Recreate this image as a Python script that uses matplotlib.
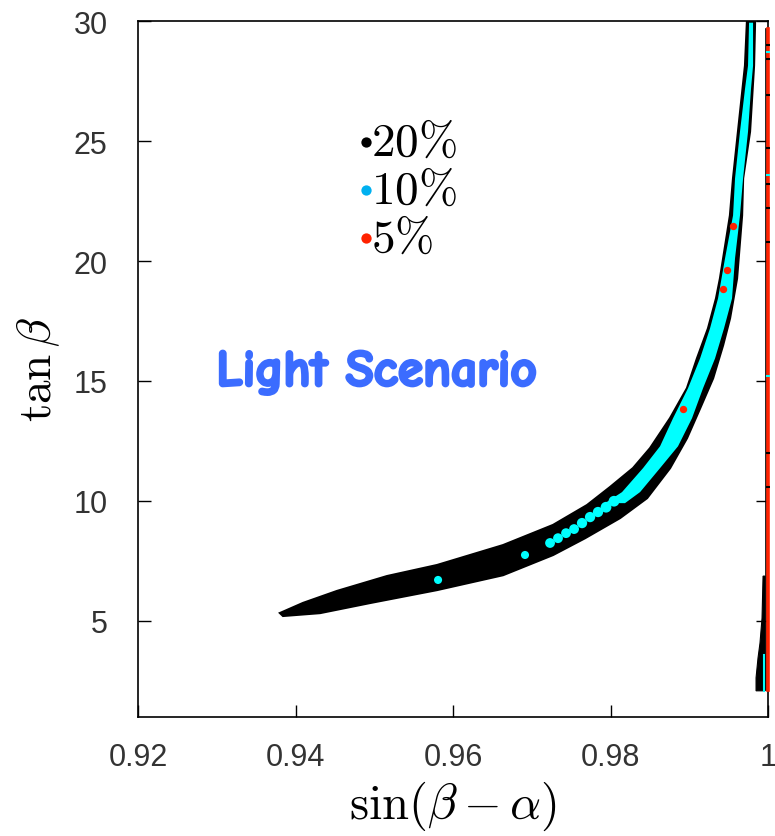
import matplotlib
matplotlib.use("Agg")
import matplotlib.pyplot as plt
import matplotlib.patheffects as pe

plt.rcParams['mathtext.fontset'] = 'cm'

# 20% region: outline of the allowed band (upper-left edge, then lower-right edge back down)
band_x = [0.93803, 0.94095, 0.94527, 0.95162, 0.95797, 0.96635, 0.97270, 0.97702,
          0.97994, 0.98286, 0.98502, 0.98756, 0.98971, 0.99098, 0.99238, 0.99340,
          0.99390, 0.99517, 0.99556, 0.99619, 0.99708, 0.99733,
          0.99835, 0.99822, 0.99771, 0.99683, 0.99670, 0.99606, 0.99517, 0.99429,
          0.99302, 0.99137, 0.98971, 0.98756, 0.98464, 0.98121, 0.97676, 0.97270,
          0.96635, 0.95797, 0.94946, 0.94311, 0.93841]
band_y = [5.33, 5.75, 6.25, 6.87, 7.33, 8.16, 9.00, 9.83,
          10.58, 11.37, 12.20, 13.45, 14.70, 15.94, 17.19, 18.44,
          19.27, 21.90, 23.44, 25.39, 28.14, 30.0,
          30.0, 28.14, 25.39, 23.44, 21.90, 19.27, 17.61, 16.49,
          15.11, 13.86, 12.62, 11.37, 10.12, 9.29, 8.45, 7.75,
          6.91, 6.29, 5.75, 5.33, 5.21]

# 10% region: continuous strip inside the upper part of the band
strip_x = [0.97930, 0.98146, 0.98413, 0.98629, 0.98794, 0.98984, 0.99137, 0.99263,
           0.99365, 0.99454, 0.99556, 0.99581, 0.99644, 0.99708, 0.99746, 0.99759,
           0.99810, 0.99810, 0.99784, 0.99746, 0.99683, 0.99644, 0.99581, 0.99543,
           0.99441, 0.99327, 0.99175, 0.99035, 0.98857, 0.98629, 0.98375, 0.98184]
strip_y = [9.91, 10.37, 11.37, 12.28, 13.45, 14.70, 15.94, 17.19,
           18.44, 20.11, 21.90, 23.44, 25.39, 27.18, 28.14, 29.93,
           29.93, 28.14, 27.18, 25.39, 23.44, 21.90, 20.11, 18.44,
           17.19, 15.94, 14.70, 13.45, 12.28, 11.37, 10.37, 9.91]
# scattered 10% points further down the band
dots10_x = [0.95810, 0.96914, 0.97232, 0.97333, 0.97435, 0.97537, 0.97638, 0.97740,
            0.97841, 0.97943, 0.98044]
dots10_y = [6.71, 7.75, 8.25, 8.45, 8.66, 8.83, 9.08, 9.33, 9.54, 9.74, 9.99]
dots10_s = [34, 34, 50, 50, 50, 50, 55, 55, 55, 60, 60]

# 5% points
dots5_x = [0.99556, 0.99479, 0.99429, 0.98921]
dots5_y = [21.44, 19.61, 18.82, 13.82]

# solutions hugging sin(beta-alpha) = 1
edge_x = [0.99937, 0.99962, 0.99962, 0.99848, 0.99848, 0.99873, 0.99898, 0.99924]
edge_y = [6.87, 6.87, 2.09, 2.09, 2.63, 3.46, 4.08, 5.12]
edge10_y = [2.09, 3.59]
line_lo, line_hi = 2.13, 29.68
dash_black = [29.0, 28.4, 26.9, 24.7, 23.2, 22.2, 20.8, 12.0, 10.6]
dash_cyan = [28.7, 23.6, 15.2]

xticks = [0.92, 0.94, 0.96, 0.98, 1.0]
xticklabels = ['0.92', '0.94', '0.96', '0.98', '1']
yticks = [5, 10, 15, 20, 25, 30]
legend_labels = ['20%', '10%', '5%']
legend_colors = ['black', '#00b0f0', '#ff2200']

fig = plt.figure(figsize=(7.75, 8.37), dpi=100)
ax = fig.add_axes([0.1781, 0.1422, 0.8129, 0.8315])

ax.fill(band_x, band_y, facecolor='black', edgecolor='black', lw=1.6, zorder=2)
ax.fill(strip_x, strip_y, color='cyan', lw=0, zorder=3)
ax.scatter(dots10_x, dots10_y, s=dots10_s, color='cyan', lw=0, zorder=3)
ax.scatter(dots5_x, dots5_y, s=28, color='#ff2200', lw=0, zorder=4)

ax.fill(edge_x, edge_y, facecolor='black', edgecolor='black', lw=0.8, zorder=2)
ax.plot([0.99950, 0.99950], edge10_y, color='cyan', lw=1.5, zorder=3)
ax.plot([0.99970, 0.99970], [line_lo, line_hi], color='black', lw=1.2, zorder=3, clip_on=False)
ax.plot([1.00005, 1.00005], [line_lo, line_hi], color='#ff2200', lw=2.6, zorder=4, clip_on=False)
ax.scatter([1.00003] * len(dash_black), dash_black, marker='_', s=6, color='black', lw=1.5,
           zorder=5, clip_on=False)
ax.scatter([1.00003] * len(dash_cyan), dash_cyan, marker='_', s=6, color='cyan', lw=1.5,
           zorder=5, clip_on=False)

ax.set_xlim(0.92, 1.0)
ax.set_ylim(1, 30)
ax.set_xticks(xticks)
ax.set_xticklabels(xticklabels)
ax.set_yticks(yticks)
ax.tick_params(direction='in', length=9, width=1, top=False, right=True,
               labelsize=22, labelcolor='#333333')
ax.tick_params(axis='y', pad=22)
ax.tick_params(axis='x', pad=18)
for lab in ax.get_xticklabels() + ax.get_yticklabels():
    lab.set_family(['Liberation Sans', 'DejaVu Sans'])
ax.spines['right'].set_visible(False)
for s in ['left', 'bottom', 'top']:
    ax.spines[s].set_linewidth(1.2)
ax.plot([1.0, 1.0], [1, 30], color='black', lw=1.2, zorder=1, clip_on=False)

ax.set_xlabel(r'$\sin(\beta-\alpha)$', fontsize=35, labelpad=5)
ax.set_ylabel(r'$\tan\beta$', fontsize=34, labelpad=8)

for i, (lab, col) in enumerate(zip(legend_labels, legend_colors)):
    ty = 0.826 - i * 0.069
    ax.scatter([0.362], [ty], s=55, color=col, lw=0, transform=ax.transAxes, zorder=6)
    ax.text(0.370, ty, r'$\mathrm{' + lab.replace('%', r'\%') + '}$', fontsize=34,
            transform=ax.transAxes, va='center', ha='left', zorder=6)

ax.text(0.379, 0.494, 'Light Scenario', transform=ax.transAxes, fontsize=37,
        fontweight='bold', color='#3b6cff', ha='center', va='center',
        family=['Comic Neue', 'Lato', 'DejaVu Sans'],
        path_effects=[pe.withStroke(linewidth=2, foreground='#3b6cff')])

plt.savefig('out.png', dpi=100)
